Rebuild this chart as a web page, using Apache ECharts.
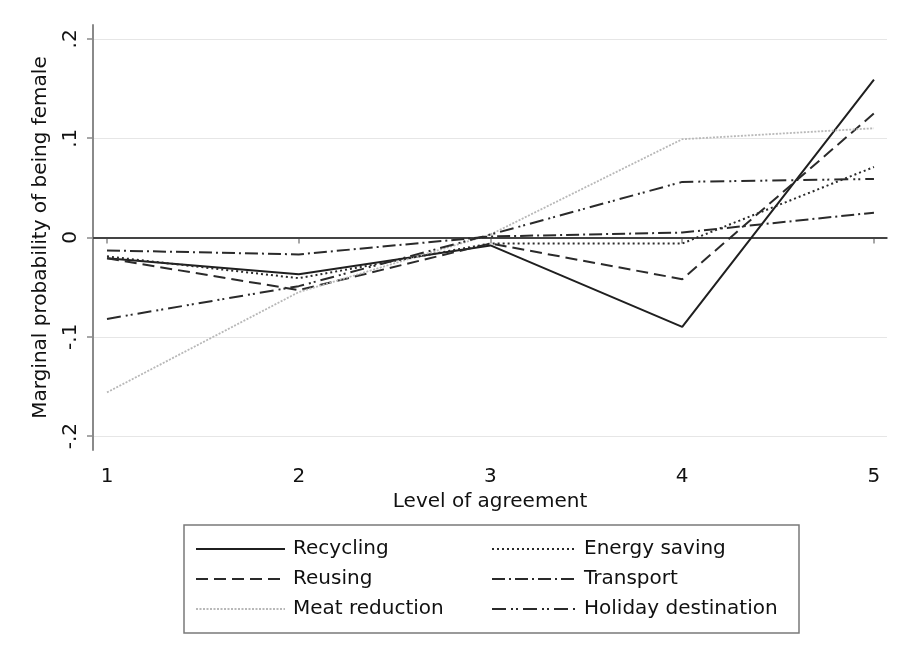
<!DOCTYPE html>
<html>
<head>
<meta charset="utf-8">
<script src="https://cdn.jsdelivr.net/npm/echarts@6/dist/echarts.min.js"></script>
<style>html,body{margin:0;padding:0;background:#fff}#c{width:907px;height:660px}</style>
</head>
<body>
<div id="c"></div>
<script>
// ---- data ----
const levels = [1, 2, 3, 4, 5];
const xTickLabels = ['1', '2', '3', '4', '5'];
const yTicks = [-0.2, -0.1, 0, 0.1, 0.2];
const yTickLabels = ['-.2', '-.1', '0', '.1', '.2'];

const recycling     = [-0.021, -0.037, -0.008, -0.090, 0.159];
const reusing       = [-0.021, -0.053, -0.006, -0.042, 0.125];
const meatReduction = [-0.156, -0.055, 0.003, 0.099, 0.110];
const energySaving  = [-0.019, -0.041, -0.006, -0.006, 0.071];
const transport     = [-0.013, -0.017, 0.001, 0.005, 0.025];
const holiday       = [-0.082, -0.049, 0.003, 0.056, 0.059];

const seriesNames = ['Recycling', 'Reusing', 'Meat reduction', 'Energy saving', 'Transport', 'Holiday destination'];
const seriesValues = [recycling, reusing, meatReduction, energySaving, transport, holiday];

// ---- styles ----
const FONT = 'DejaVu Sans';
const styles = [
  { color: '#1f1f1f', width: 2, type: 'solid' },
  { color: '#2a2a2a', width: 2, type: [12, 6] },
  { color: '#b8b8b8', width: 1.8, type: [2, 1.5] },
  { color: '#2a2a2a', width: 2, type: [2, 3] },
  { color: '#2a2a2a', width: 2, type: [13, 4, 2, 4] },
  { color: '#2a2a2a', width: 2, type: [14, 5, 2, 3, 2, 5] }
];

const series = seriesNames.map((name, i) => {
  const s = {
    name: name,
    type: 'line',
    symbol: 'none',
    silent: true,
    animation: false,
    data: levels.map((x, j) => [x, seriesValues[i][j]]),
    lineStyle: styles[i],
    itemStyle: { color: styles[i].color },
    z: 3
  };
  if (i === 0) {
    s.markLine = {
      silent: true,
      symbol: 'none',
      label: { show: false },
      lineStyle: { color: '#444444', width: 2, type: 'solid' },
      data: [{ yAxis: 0 }],
      z: 2,
      animation: false
    };
  }
  return s;
});

const chart = echarts.init(document.getElementById('c'), null, { renderer: 'canvas' });
const legendCommon = {
  orient: 'vertical',
  itemHeight: 20,
  itemGap: 10,
  selectedMode: false,
  itemStyle: { opacity: 0 },
  textStyle: { fontFamily: FONT, fontSize: 20, color: '#111111', padding: [0, 0, 0, 3], lineHeight: 20 }
};
chart.setOption({
  animation: false,
  backgroundColor: '#ffffff',
  grid: { left: 93, right: 20, top: 25, bottom: 210 },
  xAxis: {
    type: 'value',
    min: 0.927,
    max: 5.068,
    name: 'Level of agreement',
    nameLocation: 'middle',
    nameGap: 38,
    nameTextStyle: { fontFamily: FONT, fontSize: 20, color: '#111111' },
    axisLine: { show: true, lineStyle: { color: '#8a8a8a', width: 2 } },
    axisTick: { show: true, length: 6, customValues: levels, lineStyle: { color: '#8a8a8a', width: 1.5 } },
    axisLabel: {
      customValues: levels,
      margin: 17,
      fontFamily: FONT, fontSize: 20, color: '#111111',
      formatter: v => xTickLabels[levels.indexOf(Math.round(v))]
    },
    splitLine: { show: false }
  },
  yAxis: {
    type: 'value',
    min: -0.214,
    max: 0.214,
    name: 'Marginal probability of being female',
    nameLocation: 'middle',
    nameGap: 42,
    nameTextStyle: { fontFamily: FONT, fontSize: 20, color: '#111111' },
    axisLine: { show: true, lineStyle: { color: '#8a8a8a', width: 2 } },
    axisTick: { show: true, length: 6, customValues: yTicks, lineStyle: { color: '#8a8a8a', width: 1.5 } },
    axisLabel: {
      customValues: yTicks,
      rotate: 90,
      margin: 12,
      fontFamily: FONT, fontSize: 20, color: '#111111',
      formatter: v => {
        let k = 0, best = 1e9;
        yTicks.forEach((t, i) => { if (Math.abs(t - v) < best) { best = Math.abs(t - v); k = i; } });
        return yTickLabels[k];
      }
    },
    splitLine: { show: true, lineStyle: { color: '#e6e6e6', width: 1.2 } }
  },
  legend: [
    Object.assign({}, legendCommon, { left: 190, top: 534, itemWidth: 89, data: ['Recycling', 'Reusing', 'Meat reduction'] }),
    Object.assign({}, legendCommon, { left: 486, top: 534, itemWidth: 84, data: ['Energy saving', 'Transport', 'Holiday destination'] })
  ],
  graphic: [{
    type: 'rect',
    silent: true,
    shape: { x: 184, y: 525, width: 615, height: 108 },
    style: { fill: 'none', stroke: '#7a7a7a', lineWidth: 1.5 }
  }],
  series: series
});
</script>
</body>
</html>
